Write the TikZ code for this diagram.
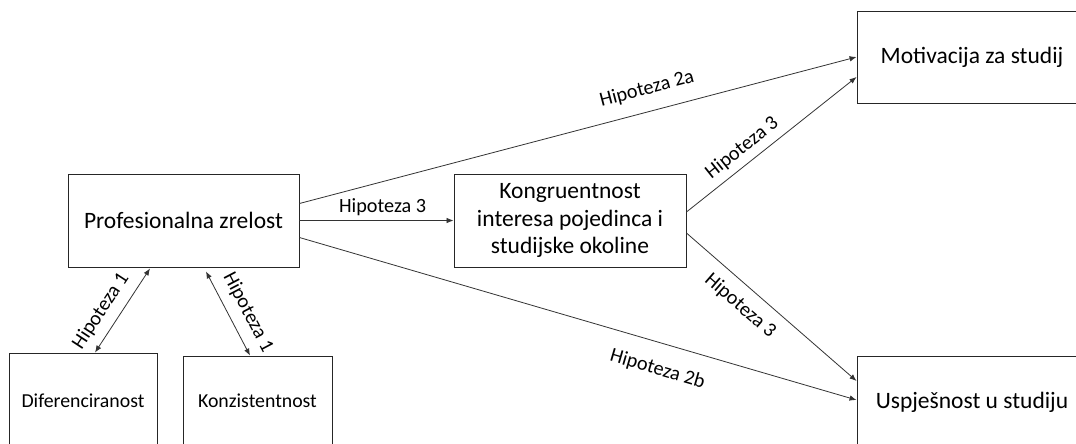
\documentclass[tikz,border=0pt]{standalone}
\usepackage{fontspec}
\setmainfont{Carlito}
\usetikzlibrary{arrows.meta}
\tikzset{
  bigbox/.style={draw=black!85, line width=0.9pt, align=center, inner sep=0pt,
    font=\fontsize{23.5}{27.5}\selectfont},
  smallbox/.style={draw=black!85, line width=0.9pt, align=center, inner sep=0pt,
    font=\fontsize{19.8}{24}\selectfont},
  lab/.style={font=\fontsize{20.2}{24}\selectfont, text=black},
  arr/.style={draw=black!80, line width=0.8pt, -{Latex[length=7pt,width=5.5pt]}},
  dblarr/.style={draw=black!80, line width=0.8pt, {Latex[length=7pt,width=5.5pt]}-{Latex[length=7pt,width=5.5pt]}}
}
\begin{document}
\begin{tikzpicture}[x=1pt,y=-1pt]
\useasboundingbox (0,0) rectangle (1076,444);
\clip (0,0) rectangle (1076,444);
\fill[white] (0,0) rectangle (1076,444);

\node[bigbox, minimum width=231pt, minimum height=93pt] (prof) at (183.5,220.5) {Profesionalna zrelost};
\node[bigbox, minimum width=232pt, minimum height=93pt] (kong) at (570,220.5) {Kongruentnost\\interesa pojedinca i\\studijske okoline};
\node[bigbox, minimum width=230pt, minimum height=92pt] (mot) at (972,57) {Motivacija za studij};
\node[bigbox, minimum width=230pt, minimum height=92pt] (usp) at (972,402) {Uspješnost u studiju};
\node[smallbox, minimum width=148pt, minimum height=96pt] (dif) at (83,401) {Diferenciranost};
\node[smallbox, minimum width=149pt, minimum height=90pt] (kon) at (257.5,401) {Konzistentnost};

\draw[arr] ([yshift=17pt]prof.east) -- node[lab, sloped, above=10pt, pos=0.634] (l2a) {Hipoteza 2a} (mot.west);
\draw[arr] (prof.east) -- node[lab, above=1pt, pos=0.54] (l3m) {Hipoteza 3} (kong.west);
\draw[arr] ([yshift=-17pt]prof.east) -- node[lab, sloped, below=14pt, pos=0.656] (l2b) {Hipoteza 2b} ([yshift=2pt]usp.west);
\draw[arr] ([yshift=8.5pt]kong.east) -- node[lab, sloped, above=3pt, pos=0.383] (l3u) {Hipoteza 3} ([yshift=-20pt]mot.west);
\draw[arr] ([yshift=-12.5pt]kong.east) -- node[lab, sloped, below=7.5pt, pos=0.393] (l3d) {Hipoteza 3} ([yshift=21pt]usp.west);
\draw[dblarr] ([xshift=12pt]dif.north) -- node[lab, sloped, above=5.5pt, pos=0.378] (l1a) {Hipoteza 1} ([xshift=-33.5pt,yshift=-1pt]prof.south);
\draw[dblarr] ([xshift=22.5pt,yshift=-4pt]prof.south) -- node[lab, sloped, above=6pt, pos=0.587] (l1b) {Hipoteza 1} ([xshift=-7.5pt]kon.north);
\end{tikzpicture}
\end{document}
